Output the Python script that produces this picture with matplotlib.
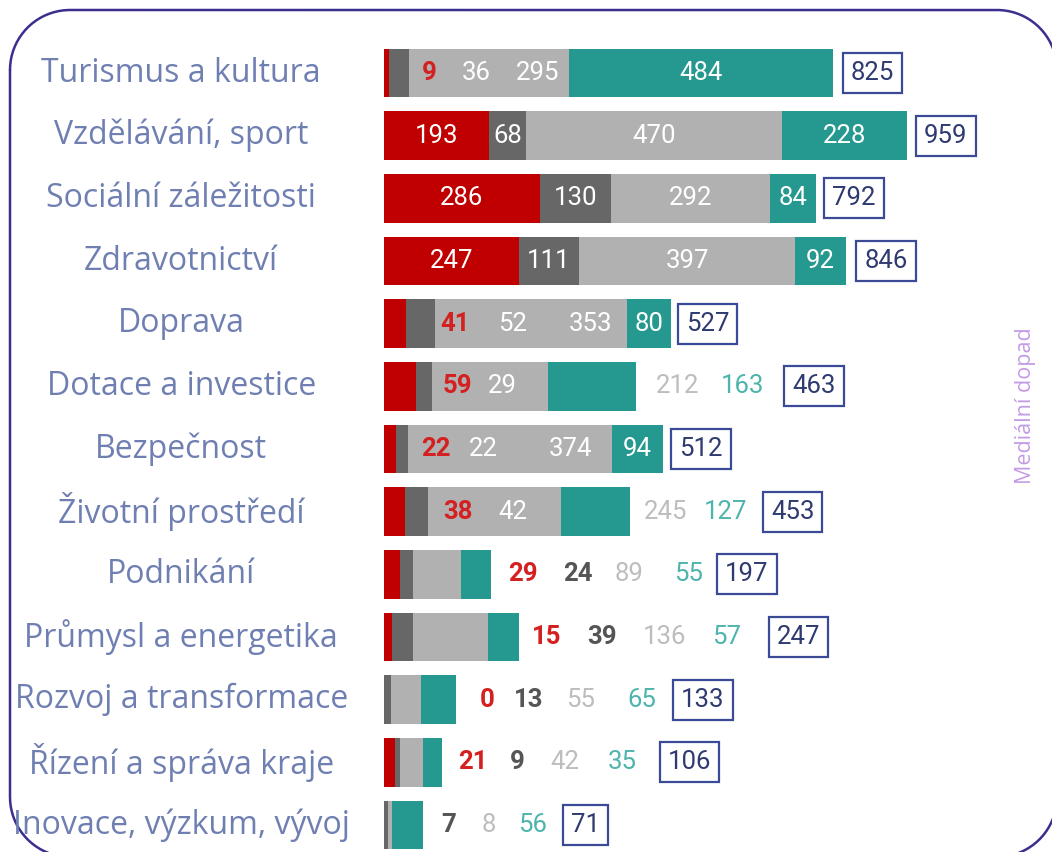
import matplotlib
matplotlib.use("Agg")
import matplotlib.pyplot as plt
import numpy as np

# ---------------- data ----------------
categories = ["Turismus a kultura", "Vzdělávání, sport", "Sociální záležitosti",
              "Zdravotnictví", "Doprava", "Dotace a investice", "Bezpečnost",
              "Životní prostředí", "Podnikání", "Průmysl a energetika",
              "Rozvoj a transformace", "Řízení a správa kraje", "Inovace, výzkum, vývoj"]
red_vals = [9, 193, 286, 247, 41, 59, 22, 38, 29, 15, 0, 21, 0]
dark_vals = [36, 68, 130, 111, 52, 29, 22, 42, 24, 39, 13, 9, 7]
light_vals = [295, 470, 292, 397, 353, 212, 374, 245, 89, 136, 55, 42, 8]
teal_vals = [484, 228, 84, 92, 80, 163, 94, 127, 55, 57, 65, 35, 56]
totals = [825, 959, 792, 846, 527, 463, 512, 453, 197, 247, 133, 106, 71]
show_red_label = [True] * 12 + [False]

# ---------------- layout (label anchor positions, in value units) ----------------
label_pos = [
    [84, 169, 281, None],
    [None, None, None, None],
    [None, None, None, None],
    [None, None, None, None],
    [130, 235, 378, None],
    [134, 218, 538, 657],
    [95, 183, 343, None],
    [136, 237, 517, 626],
    [255, 356, 450, 558],
    [299, 400, 514, 629],
    [189, 266, 360, 473],
    [163, 244, 332, 437],
    [None, 119, 193, 273],
]
total_pos = [896, 1031, 862, 921, 594, 789, 582, 750, 666, 761, 585, 560, 369]

seg_colors = ["#c00000", "#676767", "#b1b1b1", "#25998f"]
out_colors = ["#d42020", "#555555", "#bdbdbd", "#4db5ab"]
out_weights = ["bold", "bold", "normal", "normal"]
cat_color = "#6f7fb2"
box_color = "#3b4a96"

W, H = 1052, 852
fig = plt.figure(figsize=(W / 100, H / 100), dpi=100)
fig.patch.set_facecolor("white")

# background axes in pixel-like units for the rounded frame
bg = fig.add_axes([0, 0, 1, 1], zorder=-1)
bg.set_xlim(0, W)
bg.set_ylim(H, 0)
bg.set_autoscale_on(False)
bg.axis("off")

fx0, fy0, fx1, fy1, R = 10, 10, 1057, 857, 60
def arc(cx, cy, a0, a1):
    t = np.radians(np.linspace(a0, a1, 40))
    return cx + R * np.cos(t), cy + R * np.sin(t)
pieces = [
    arc(fx0 + R, fy0 + R, 180, 270),          # top-left
    arc(fx1 - R, fy0 + R, 270, 360),          # top-right
    arc(fx1 - R, fy1 - R, 0, 90),             # bottom-right
    arc(fx0 + R, fy1 - R, 90, 180),           # bottom-left
]
xs = np.concatenate([p[0] for p in pieces] + [pieces[0][0][:1]])
ys = np.concatenate([p[1] for p in pieces] + [pieces[0][1][:1]])
bg.plot(xs, ys, color="#3a2f8f", lw=1.8, clip_on=True, solid_capstyle="round")

px_per_unit = 0.545
ax_left_px = 384
ax_w_px = W - ax_left_px
ax = fig.add_axes([ax_left_px / W, 0, ax_w_px / W, 1])
ax.patch.set_alpha(0)
ax.set_xlim(0, ax_w_px / px_per_unit)
row_px = 62.67
first_px = 73
ax.set_ylim((H - first_px) / row_px, -first_px / row_px)
ax.axis("off")

series = [red_vals, dark_vals, light_vals, teal_vals]
n = len(categories)
ypos = list(range(n))
lefts = [0] * n
bar_h = 0.78
for s, vals in enumerate(series):
    ax.barh(ypos, vals, left=lefts, height=bar_h, color=seg_colors[s], edgecolor="none")
    lefts = [l + v for l, v in zip(lefts, vals)]

num_font = "Roboto"
num_size = 18.5
for i in range(n):
    start = 0
    row_total = sum(series[s][i] for s in range(4))
    for s in range(4):
        v = series[s][i]
        seg_start, seg_end = start, start + v
        start = seg_end
        if s == 0 and not show_red_label[i]:
            continue
        p = label_pos[i][s]
        if p is None:
            p = (seg_start + seg_end) / 2
        inside_own = seg_start <= p <= seg_end
        if p < row_total:
            if s == 0 and not inside_own:
                color, weight = out_colors[0], "bold"
            else:
                color, weight = "white", "normal"
        else:
            color, weight = out_colors[s], out_weights[s]
        ax.text(p, i, str(v), ha="center", va="center", fontsize=num_size,
                color=color, fontweight=weight, family=num_font)
    # total box
    ax.text(total_pos[i], i, str(totals[i]), ha="center", va="center", fontsize=num_size,
            color="#2f3a70", family=num_font,
            bbox=dict(boxstyle="square,pad=0.31", mutation_aspect=1.0,
                      fc="white", ec=box_color, lw=1.6))
    # category label
    ax.text(-372, i, categories[i], ha="center", va="center", fontsize=23,
            color=cat_color, family="Open Sans", clip_on=False)

fig.text(1025 / W, 1 - 406 / H, "Mediální dopad", rotation=90, ha="center",
         va="center", fontsize=15.5, color="#c39be6", family="Open Sans")

fig.savefig("out.png", dpi=100)
